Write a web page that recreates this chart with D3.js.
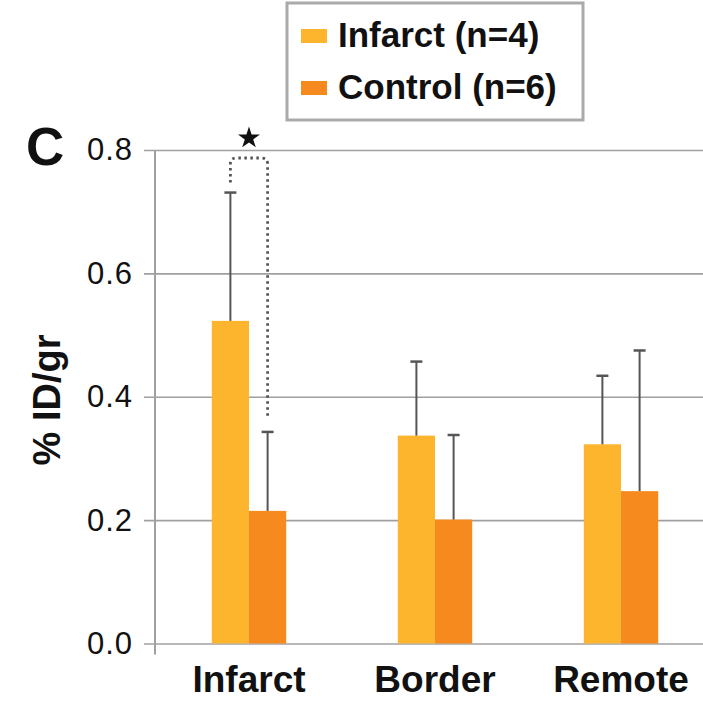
<!DOCTYPE html>
<html>
<head>
<meta charset="utf-8">
<script src="https://cdn.jsdelivr.net/npm/d3@7"></script>
<style>
  body { margin: 0; background: #fff; }
  text { font-family: "Liberation Sans", Arial, Helvetica, sans-serif; fill: #111; }
</style>
</head>
<body>
<div id="chart"></div>
<script>
// regions on the x axis
const regions = ["Infarct", "Border", "Remote"];
const groups = ["Infarct (n=4)", "Control (n=6)"];

// mean %ID/gr and standard deviation per region
const infarctMean = [0.523, 0.337, 0.323];
const infarctSd = [0.208, 0.120, 0.111];
const controlMean = [0.215, 0.201, 0.247];
const controlSd = [0.128, 0.137, 0.228];

const yTicks = [0.0, 0.2, 0.4, 0.6, 0.8];
const sigTop = 0.787; // height of the significance bracket

const colors = ["#FDB52E", "#F78A1F"];

const W = 703, H = 701;
const margin = { top: 150, left: 155 };
const plotBottom = 643.5;

const svg = d3.select("#chart").append("svg")
  .attr("width", W)
  .attr("height", H);

const y = d3.scaleLinear().domain([0, 0.8]).range([plotBottom, margin.top]);
const x = d3.scaleBand().domain(regions).range([156, 714])
  .paddingInner(0.6).paddingOuter(0.3);
const xSub = d3.scaleBand().domain([0, 1]).range([0, x.bandwidth()]);

// y axis + gridlines
const yAxis = svg.append("g")
  .attr("transform", `translate(${margin.left},0)`)
  .call(d3.axisLeft(y).tickValues(yTicks).tickFormat(d3.format(".1f"))
    .tickSize(-(W - margin.left)).tickPadding(22));
yAxis.select(".domain").remove();
yAxis.selectAll(".tick line")
  .attr("x1", -11)
  .attr("stroke", "#a0a0a0")
  .attr("stroke-width", 1.6);
yAxis.selectAll(".tick text")
  .attr("font-size", 31)
  .attr("letter-spacing", 1)
  .attr("fill", "#111");

svg.append("line")
  .attr("x1", margin.left).attr("x2", margin.left)
  .attr("y1", y(0.8)).attr("y2", plotBottom + 11)
  .attr("stroke", "#a0a0a0").attr("stroke-width", 2);

// bars
const rows = regions.map((r, i) => ({
  region: r,
  vals: [
    { k: 0, mean: infarctMean[i], sd: infarctSd[i] },
    { k: 1, mean: controlMean[i], sd: controlSd[i] }
  ]
}));

const g = svg.selectAll("g.region").data(rows).join("g")
  .attr("class", "region")
  .attr("transform", d => `translate(${x(d.region)},0)`);

g.selectAll("rect").data(d => d.vals).join("rect")
  .attr("x", d => xSub(d.k))
  .attr("y", d => y(d.mean))
  .attr("width", xSub.bandwidth())
  .attr("height", d => plotBottom - y(d.mean))
  .attr("fill", d => colors[d.k]);

// error bars (upper only)
const cx = d => xSub(d.k) + xSub.bandwidth() / 2;
g.selectAll("line.err").data(d => d.vals).join("line")
  .attr("class", "err")
  .attr("x1", cx).attr("x2", cx)
  .attr("y1", d => y(d.mean)).attr("y2", d => y(d.mean + d.sd))
  .attr("stroke", "#555").attr("stroke-width", 2);
g.selectAll("line.cap").data(d => d.vals).join("line")
  .attr("class", "cap")
  .attr("x1", d => cx(d) - 6).attr("x2", d => cx(d) + 6)
  .attr("y1", d => y(d.mean + d.sd)).attr("y2", d => y(d.mean + d.sd))
  .attr("stroke", "#555").attr("stroke-width", 2.5);

// significance bracket over Infarct region
const left = rows[0].vals[0], right = rows[0].vals[1];
const lx = x("Infarct") + cx(left), rx = x("Infarct") + cx(right);
const ly = y(left.mean + left.sd) - 10, ry = y(right.mean + right.sd) - 16;
const ty = y(sigTop), r = 6;
svg.append("path")
  .attr("d", `M${lx},${ly} V${ty + r} Q${lx},${ty} ${lx + r},${ty} H${rx - r} Q${rx},${ty} ${rx},${ty + r} V${ry}`)
  .attr("fill", "none")
  .attr("stroke", "#555")
  .attr("stroke-width", 2.8)
  .attr("stroke-dasharray", "2.5,3.5");

svg.append("path")
  .attr("d", d3.symbol(d3.symbolStar, 150)())
  .attr("transform", `translate(${(lx + rx) / 2},${ty - 20})`)
  .attr("fill", "#111");

// x labels
svg.selectAll("text.xlab").data(regions).join("text")
  .attr("class", "xlab")
  .attr("x", d => x(d) + x.bandwidth() / 2)
  .attr("y", 692)
  .attr("text-anchor", "middle")
  .attr("font-size", 37)
  .attr("font-weight", "bold")
  .text(d => d);

// y title
svg.append("text")
  .attr("transform", "translate(60,400) rotate(-90)")
  .attr("text-anchor", "middle")
  .attr("font-size", 38)
  .attr("font-weight", "bold")
  .text("% ID/gr");

// panel letter
svg.append("text")
  .attr("x", 26).attr("y", 165)
  .attr("font-size", 53)
  .attr("font-weight", "bold")
  .text("C");

// legend
const legend = svg.append("g");
legend.append("rect")
  .attr("x", 287).attr("y", 3)
  .attr("width", 296).attr("height", 117)
  .attr("fill", "#fff")
  .attr("stroke", "#aaa")
  .attr("stroke-width", 3);
const li = legend.selectAll("g").data(groups).join("g")
  .attr("transform", (d, i) => `translate(301,${29 + i * 52})`);
li.append("rect")
  .attr("width", 26).attr("height", 14)
  .attr("fill", (d, i) => colors[i]);
li.append("text")
  .attr("x", 37).attr("y", 18)
  .attr("font-size", 35)
  .attr("font-weight", "bold")
  .text(d => d);
</script>
</body>
</html>
